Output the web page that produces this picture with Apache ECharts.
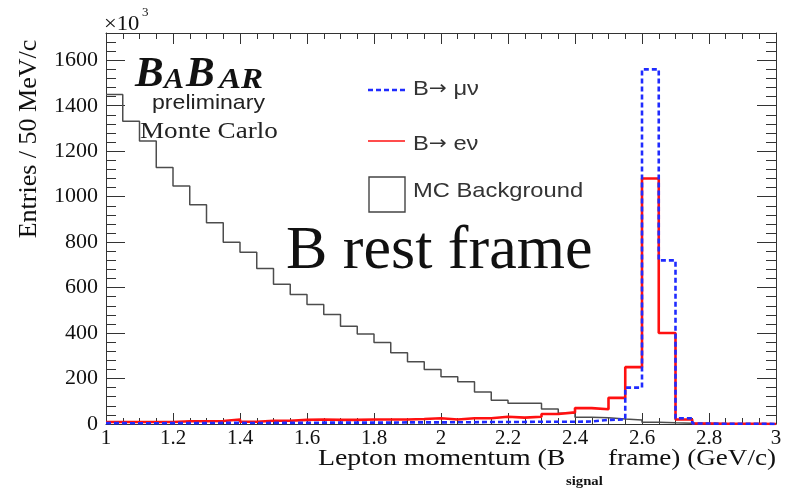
<!DOCTYPE html>
<html>
<head>
<meta charset="utf-8">
<script src="https://cdn.jsdelivr.net/npm/echarts@6/dist/echarts.min.js"></script>
<style>
  html, body { margin: 0; padding: 0; background: #fff; }
  #chart { width: 793px; height: 488px; }
</style>
</head>
<body>
<div id="chart"></div>
<script>
// Lower edges of the 50 MeV/c momentum bins (GeV/c); the last bin closes at upperEdge.
const binLowEdges = [
  1.00, 1.05, 1.10, 1.15, 1.20, 1.25, 1.30, 1.35, 1.40, 1.45,
  1.50, 1.55, 1.60, 1.65, 1.70, 1.75, 1.80, 1.85, 1.90, 1.95,
  2.00, 2.05, 2.10, 2.15, 2.20, 2.25, 2.30, 2.35, 2.40, 2.45,
  2.50, 2.55, 2.60, 2.65, 2.70, 2.75, 2.80, 2.85, 2.90, 2.95
];
const upperEdge = 3.00;

// Entries per bin, in units of 10^3.
const mcBackground = [
  1450, 1332, 1245, 1128, 1047, 964, 885, 800, 756, 684,
  615, 570, 526, 482, 430, 396, 359, 313, 274, 240,
  208, 186, 141, 105, 91, 91, 66, 47, 30, 28,
  22, 18, 8, 5, 3, 2, 1, 1, 0, 0
];
const bToENu = [
  9, 9, 9, 9, 12, 12, 13, 20, 10, 14,
  14, 18, 20, 18, 18, 20, 20, 20, 22, 25,
  20, 25, 25, 32, 28, 32, 44, 51, 70, 65,
  115, 250, 1080, 400, 20, 2, 1, 1, 1, 0
];
const bToMuNu = [
  4, 3, 3, 4, 4, 4, 5, 5, 4, 5,
  5, 5, 6, 6, 6, 6, 6, 7, 7, 7,
  8, 8, 9, 9, 9, 10, 10, 10, 11, 18,
  20, 160, 1560, 720, 25, 2, 1, 1, 1, 0
];

const seriesNames = ['B\u2192 \u03BC\u03BD', 'B\u2192 e\u03BD', 'MC Background'];

const SERIF = '"Liberation Serif", "Times New Roman", serif';
const SANS = '"Liberation Sans", Arial, sans-serif';
const FRAME = '#333';
const WIDE = 1.13;   // horizontal stretch of the plot lettering

// Step-histogram outline: one point per bin low edge, plus the closing edge.
function histPoints(values) {
  const pts = binLowEdges.map((x, i) => [x, values[i]]);
  pts.push([upperEdge, values[values.length - 1]]);
  return pts;
}

function frameAxis(extra) {
  return Object.assign({
    type: 'value',
    axisLine: { show: true, onZero: false, lineStyle: { color: FRAME, width: 1 } },
    splitLine: { show: false },
    minorSplitLine: { show: false },
    axisLabel: { show: false }
  }, extra);
}

function txt(text, x, y, font, opts) {
  opts = opts || {};
  return {
    type: 'text',
    x: x, y: y,
    rotation: opts.rotation || 0,
    scaleX: opts.scaleX || 1,
    silent: true,
    z: 20,
    style: Object.assign({
      text: text,
      font: font,
      fill: opts.fill || '#111',
      align: opts.align || 'left',
      verticalAlign: opts.verticalAlign || 'middle'
    }, opts.rich ? { rich: opts.rich } : {})
  };
}

// Legend entries: the arrow is taken from DejaVu Sans, whose arrow is long.
const legendRich = {
  arr: { fontFamily: '"DejaVu Sans"', fontSize: 19, fill: '#333' }
};
function legendLabel(name) {
  return name.replace('\u2192', '{arr|\u2192}');
}

const chart = echarts.init(document.getElementById('chart'));

const xTickFmt = v => String(Math.round(v * 10) / 10);
const yTickFmt = v => String(Math.round(v));

chart.setOption({
  animation: false,
  backgroundColor: '#fff',
  grid: { left: 106, right: 17, top: 33, bottom: 64, containLabel: false },
  xAxis: [
    frameAxis({
      position: 'bottom', min: 1, max: 3, interval: 0.2,
      axisTick: { show: true, inside: true, length: 11, lineStyle: { color: FRAME } },
      minorTick: { show: true, splitNumber: 4, length: 6, lineStyle: { color: FRAME } },
      axisLabel: { show: true, fontFamily: SERIF, fontSize: 21, color: '#111', margin: 4, formatter: xTickFmt }
    }),
    frameAxis({
      position: 'top', min: 1, max: 3, interval: 0.2,
      axisTick: { show: true, inside: true, length: 11, lineStyle: { color: FRAME } },
      minorTick: { show: true, splitNumber: 4, length: 6, lineStyle: { color: FRAME } }
    })
  ],
  yAxis: [
    frameAxis({
      position: 'left', min: 0, max: 1720, interval: 200,
      axisTick: { show: true, inside: true, length: 19, lineStyle: { color: FRAME } },
      axisLabel: { show: true, showMaxLabel: false, fontFamily: SERIF, fontSize: 22, color: '#111', margin: 8, formatter: yTickFmt }
    }),
    frameAxis({
      position: 'left', min: 0, max: 1720, interval: 40,
      axisLine: { show: false },
      axisTick: { show: true, inside: true, length: 10, lineStyle: { color: FRAME } }
    }),
    frameAxis({
      position: 'right', min: 0, max: 1720, interval: 200,
      axisTick: { show: true, inside: true, length: 19, lineStyle: { color: FRAME } }
    }),
    frameAxis({
      position: 'right', min: 0, max: 1720, interval: 40,
      axisLine: { show: false },
      axisTick: { show: true, inside: true, length: 10, lineStyle: { color: FRAME } }
    })
  ],
  series: [
    {
      name: seriesNames[2], type: 'line', step: 'end', symbol: 'none', z: 2,
      data: histPoints(mcBackground),
      lineStyle: { color: '#4d4d4d', width: 1.5 }
    },
    {
      name: seriesNames[1], type: 'line', step: 'end', symbol: 'none', z: 3,
      data: histPoints(bToENu),
      lineStyle: { color: '#ff1010', width: 2.6 }
    },
    {
      name: seriesNames[0], type: 'line', step: 'end', symbol: 'none', z: 4,
      data: histPoints(bToMuNu),
      lineStyle: { color: '#1f2bff', width: 2.6, type: [5, 3] }
    }
  ],
  graphic: [
    // exponent of the y scale
    txt('\u00D710', 104, 25, '20px ' + SERIF, { scaleX: WIDE }),
    txt('3', 142, 13, '13px ' + SERIF),

    // experiment logo
    txt('B', 135, 75, 'italic bold 43px ' + SERIF),
    txt('A', 164, 80, 'italic bold 30px ' + SERIF),
    txt('B', 186, 75, 'italic bold 43px ' + SERIF),
    txt('AR', 219, 80, 'italic bold 30px ' + SERIF, { scaleX: 1.1 }),
    txt('preliminary', 152, 103, '21px ' + SANS, { fill: '#222', scaleX: 1.1 }),
    txt('Monte Carlo', 140, 132, '24px ' + SERIF, { fill: '#222', scaleX: WIDE }),

    // legend
    { type: 'line', silent: true, z: 20, shape: { x1: 368, y1: 90, x2: 405, y2: 90 },
      style: { stroke: '#1f2bff', lineWidth: 2.6, lineDash: [5, 3] } },
    txt(legendLabel(seriesNames[0]), 413, 89, '21px ' + SANS, { fill: '#333', scaleX: WIDE, rich: legendRich }),
    { type: 'line', silent: true, z: 20, shape: { x1: 368, y1: 141, x2: 405, y2: 141 },
      style: { stroke: '#ff1010', lineWidth: 1.4 } },
    txt(legendLabel(seriesNames[1]), 413, 144, '21px ' + SANS, { fill: '#333', scaleX: WIDE, rich: legendRich }),
    { type: 'rect', silent: true, z: 20, shape: { x: 369, y: 177, width: 36, height: 35 },
      style: { stroke: '#444', lineWidth: 1.4, fill: 'none' } },
    txt(seriesNames[2], 413, 191, '21px ' + SANS, { fill: '#333', scaleX: WIDE }),

    // frame annotation
    txt('B rest frame', 286, 252, '62px ' + SERIF),

    // axis titles
    txt('Entries / 50 MeV/c', 29, 139, '26px ' + SERIF, { rotation: Math.PI / 2, align: 'center' }),
    txt('Lepton momentum (B', 318, 459, '24px ' + SERIF, { scaleX: 1.16 }),
    txt('signal', 566, 482, 'bold 13px ' + SERIF, { scaleX: WIDE }),
    txt('frame) (GeV/c)', 776, 459, '24px ' + SERIF, { align: 'right', scaleX: WIDE })
  ]
});
</script>
</body>
</html>
